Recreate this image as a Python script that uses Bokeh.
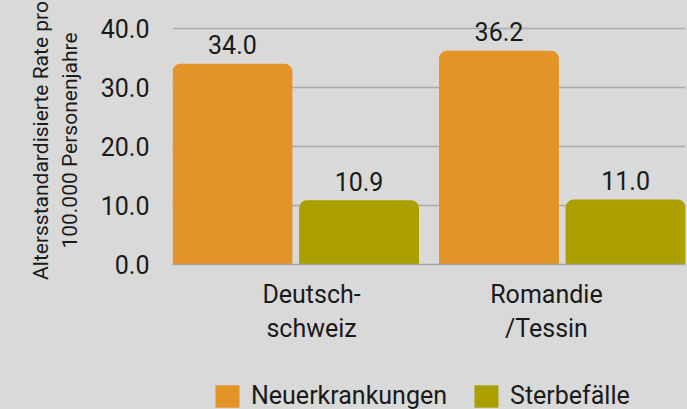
from bokeh.plotting import figure
from bokeh.layouts import column
from bokeh.models import (FactorRange, Range1d, CategoricalAxis, ColumnDataSource,
                          Legend, LegendItem, FixedTicker, NumeralTickFormatter)
from bokeh.embed import file_html
from bokeh.resources import INLINE
from bokeh.core.properties import value

# ---- data ----
regions = ["Deutschschweiz", "Romandie/Tessin"]
region_labels = ["Deutsch-\nschweiz", "Romandie\n/Tessin"]
series = ["Neuerkrankungen", "Sterbefälle"]
neuerkrankungen = [34.0, 36.2]
sterbefaelle = [10.9, 11.0]
colors = ["#e29426", "#aba000"]
y_ticks = [0, 10, 20, 30, 40]
y_label = "Altersstandardisierte Rate pro\n100.000 Personenjahre"

FONT = "Roboto"
FS = "25px"
TXT = "#1a1a1a"
BG = "#d9d9d9"

factors = [(r, s) for r in regions for s in series]
x_range = FactorRange(*factors, factor_padding=0.056, group_padding=0.167, range_padding=0)

p = figure(x_range=x_range, y_range=Range1d(0, 42), width=687, height=372,
           output_backend="svg", toolbar_location=None,
           min_border_left=172, min_border_right=2, min_border_top=16, min_border_bottom=108,
           background_fill_color=BG, border_fill_color=BG, outline_line_color=None)

p.xaxis.visible = False
p.xgrid.visible = False

# label axis for regions
p.extra_x_ranges["labels"] = FactorRange(*region_labels, range_padding=0.092)
lab_axis = CategoricalAxis(x_range_name="labels")
lab_axis.major_tick_line_color = None
lab_axis.minor_tick_line_color = None
lab_axis.axis_line_color = "#a6a6a6"
lab_axis.axis_line_width = 1.5
lab_axis.major_label_text_font = FONT
lab_axis.major_label_text_font_size = FS
lab_axis.major_label_text_color = TXT
lab_axis.major_label_standoff = 9
p.add_layout(lab_axis, "below")

# y axis
p.yaxis.ticker = FixedTicker(ticks=y_ticks)
p.yaxis.formatter = NumeralTickFormatter(format="0.0")
p.yaxis.axis_line_color = None
p.yaxis.major_tick_line_color = None
p.yaxis.minor_tick_line_color = None
p.yaxis.major_label_text_font = FONT
p.yaxis.major_label_text_font_size = FS
p.yaxis.major_label_text_color = TXT
p.yaxis.major_label_standoff = 17
p.yaxis.axis_label = y_label
p.yaxis.axis_label_text_font = FONT
p.yaxis.axis_label_text_font_size = "21px"
p.yaxis.axis_label_text_line_height = 1.2
p.yaxis.axis_label_text_font_style = "normal"
p.yaxis.axis_label_text_color = TXT
p.yaxis.axis_label_standoff = 16

p.ygrid.ticker = FixedTicker(ticks=y_ticks)
p.ygrid.grid_line_color = "#ababab"
p.ygrid.grid_line_width = 1.5

sources = []
for s, vals, col in zip(series, [neuerkrankungen, sterbefaelle], colors):
    src = ColumnDataSource(dict(x=[(r, s) for r in regions], top=vals,
                                label=["%.1f" % v for v in vals]))
    sources.append(src)
    p.vbar(x="x", top="top", width=1.0, source=src, fill_color=col,
           line_color=None, border_radius=(8, 8, 0, 0))
    p.text(x="x", y="top", text="label", source=src, text_align="center",
           text_baseline="alphabetic", y_offset=-19, text_font=value(FONT),
           text_font_size=FS, text_color=TXT)

# legend strip (hidden renderers; only their legend swatches are shown)
q = figure(width=687, height=37, output_backend="svg", toolbar_location=None,
           x_range=x_range, y_range=Range1d(0, 42),
           x_axis_type=None, y_axis_type=None, min_border=0,
           min_border_left=172, min_border_right=2,
           background_fill_color=BG, border_fill_color=BG, outline_line_color=None)
q.xgrid.visible = False
q.ygrid.visible = False
items = []
for s, col, src in zip(series, colors, sources):
    r = q.vbar(x="x", top="top", width=1.0, source=src, fill_color=col,
               line_color=None, border_radius=3, visible=False)
    items.append(LegendItem(label=s, renderers=[r]))
legend = Legend(items=items, orientation="horizontal", location=(40, -1),
                glyph_width=30, glyph_height=28, label_standoff=9, spacing=24,
                padding=0, margin=0, border_line_color=None,
                background_fill_alpha=0, inactive_fill_alpha=0,
                label_text_font=FONT, label_text_font_size=FS, label_text_color=TXT,
                click_policy="none")
q.add_layout(legend, "center")

layout = column(p, q, spacing=0)
html = file_html(layout, INLINE)
html = html.replace("</head>", "<style>body{background:%s;}</style></head>" % BG, 1)
open("out.html", "w").write(html)
